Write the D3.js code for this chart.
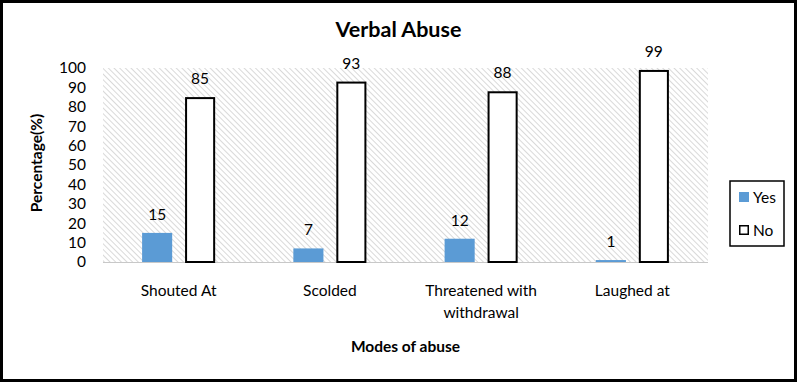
<!DOCTYPE html>
<html><head><meta charset="utf-8">
<script src="https://cdn.jsdelivr.net/npm/d3@7"></script>
<style>body{margin:0;background:#fff}svg{display:block}text{font-family:Lato,"Open Sans",sans-serif}</style>
</head><body>
<script>
const categories = ["Shouted At", "Scolded", "Threatened with withdrawal", "Laughed at"];
const seriesNames = ["Yes", "No"];
const yesValues = [15, 7, 12, 1];
const noValues = [85, 93, 88, 99];
const yTicks = [0, 10, 20, 30, 40, 50, 60, 70, 80, 90, 100];

(function() {
const W = 797, H = 382;
const svg = d3.select("body").append("svg").attr("width", W).attr("height", H);
const defs = svg.append("defs");
const pat = defs.append("pattern").attr("id", "hatch").attr("patternUnits", "userSpaceOnUse")
  .attr("width", 4).attr("height", 4).attr("patternTransform", "rotate(-45)");
pat.append("line").attr("x1", 0).attr("y1", 0).attr("x2", 0).attr("y2", 4)
  .attr("stroke", "#c4c4c4").attr("stroke-width", 1.3);

svg.append("rect").attr("x", 1.5).attr("y", 1.5).attr("width", W - 3).attr("height", H - 3)
  .attr("fill", "#fff").attr("stroke", "#000").attr("stroke-width", 3);

const pLeft = 103, pRight = 708, pTop = 68, pBottom = 262;
const x0 = d3.scaleBand().domain(categories).range([pLeft, pRight]).paddingInner(0).paddingOuter(0);
const x1 = d3.scaleBand().domain(seriesNames).range([0, x0.bandwidth()]).paddingInner(0.3).paddingOuter(0.91);
const y = d3.scaleLinear().domain([0, 100]).range([pBottom, pTop]);

svg.append("rect").attr("x", pLeft).attr("y", pTop).attr("width", pRight - pLeft).attr("height", pBottom - pTop)
  .attr("fill", "url(#hatch)");

svg.append("line").attr("x1", pLeft).attr("x2", pRight).attr("y1", pBottom + 0.5).attr("y2", pBottom + 0.5)
  .attr("stroke", "#c8c8c8").attr("stroke-width", 1);

const yAxis = d3.axisLeft(y).tickValues(yTicks).tickSize(0).tickPadding(0);
const yg = svg.append("g").attr("transform", `translate(86,0)`).call(yAxis);
yg.select(".domain").remove();
yg.selectAll("text").attr("font-size", 15.5).attr("fill", "#000").attr("font-family", "Lato,'Open Sans',sans-serif");

const data = categories.map((c, i) => ({cat: c, vals: [{s: "Yes", v: yesValues[i]}, {s: "No", v: noValues[i]}]}));
const groups = svg.selectAll("g.grp").data(data).join("g").attr("class", "grp")
  .attr("transform", d => `translate(${x0(d.cat)},0)`);
groups.selectAll("rect").data(d => d.vals).join("rect")
  .attr("x", d => x1(d.s) + (d.s === "No" ? 1 : 0))
  .attr("width", d => x1.bandwidth() - (d.s === "No" ? 2 : 0))
  .attr("y", d => y(d.v) + (d.s === "No" ? 1 : 0))
  .attr("height", d => pBottom - y(d.v) - (d.s === "No" ? 1 : 0))
  .attr("fill", d => d.s === "Yes" ? "#5b9bd5" : "#fff")
  .attr("stroke", d => d.s === "Yes" ? "none" : "#000")
  .attr("stroke-width", 2);
groups.selectAll("text").data(d => d.vals).join("text")
  .attr("x", d => x1(d.s) + x1.bandwidth() / 2)
  .attr("y", d => y(d.v) - 13)
  .attr("text-anchor", "middle").attr("font-size", 15.5).attr("fill", "#000")
  .text(d => d.v);

const wrap = {"Threatened with withdrawal": ["Threatened with", "withdrawal"]};
svg.selectAll("text.xl").data(categories).join("text").attr("class", "xl")
  .attr("x", d => x0(d) + x0.bandwidth() / 2).attr("y", 296)
  .attr("text-anchor", "middle").attr("font-size", 15.5).attr("fill", "#000")
  .each(function(d) {
    const lines = wrap[d] || [d];
    d3.select(this).selectAll("tspan").data(lines).join("tspan")
      .attr("x", x0(d) + x0.bandwidth() / 2).attr("dy", (l, i) => i === 0 ? 0 : 22).text(l => l);
  });

svg.append("text").attr("x", 398.5).attr("y", 37).attr("text-anchor", "middle")
  .attr("font-size", 21.5).attr("font-weight", "bold").text("Verbal Abuse");
svg.append("text").attr("x", (pLeft + pRight) / 2).attr("y", 352).attr("text-anchor", "middle")
  .attr("font-size", 15.5).attr("font-weight", "bold").text("Modes of abuse");
svg.append("text").attr("transform", "translate(42,163) rotate(-90)").attr("text-anchor", "middle")
  .attr("font-size", 15.5).attr("font-weight", "bold").text("Percentage(%)");

const lg = svg.append("g");
lg.append("rect").attr("x", 730).attr("y", 181).attr("width", 54).attr("height", 65)
  .attr("fill", "#fff").attr("stroke", "#000").attr("stroke-width", 1.5);
const items = lg.selectAll("g").data(seriesNames).join("g")
  .attr("transform", (d, i) => `translate(739,${192 + i * 33})`);
items.append("rect").attr("x", d => d === "No" ? 0.75 : 0).attr("y", d => d === "No" ? 0.75 : 0)
  .attr("width", d => d === "No" ? 8.5 : 10).attr("height", d => d === "No" ? 8.5 : 10)
  .attr("fill", d => d === "Yes" ? "#5b9bd5" : "#fff")
  .attr("stroke", d => d === "Yes" ? "none" : "#000").attr("stroke-width", 1.5);
items.append("text").attr("x", 14).attr("y", 10.5).attr("font-size", 15.5).attr("fill", "#000").text(d => d);
})();
</script>
</body></html>
